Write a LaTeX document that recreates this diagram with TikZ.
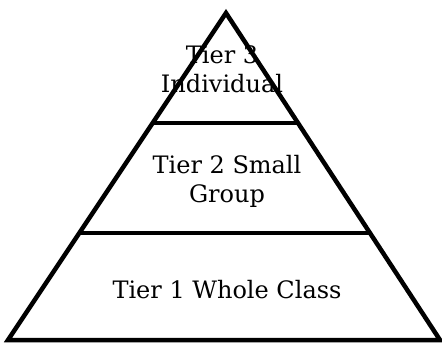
\documentclass[tikz,border=0pt]{standalone}
\usepackage{fontspec}
\setmainfont{DejaVu Serif}
\usetikzlibrary{calc}
\begin{document}
\begin{tikzpicture}[x=1pt, y=-1pt,
    tier/.style={align=center, font=\fontsize{24}{29}\selectfont, inner sep=0pt}]
    \useasboundingbox (0,0) rectangle (442,343);
    % Eckpunkte der Pyramide
    \coordinate (apex) at (226,13);
    \coordinate (bl) at (8,340);
    \coordinate (br) at (440,340);

    % Umriss
    \draw[line width=4.5pt, line join=miter] (apex) -- (bl) -- (br) -- cycle;

    % Trennlinien
    \draw[line width=4.5pt] ($(apex)!0.336!(bl)$) -- ($(apex)!0.336!(br)$);
    \draw[line width=4.5pt] ($(apex)!0.673!(bl)$) -- ($(apex)!0.673!(br)$);

    % Beschriftungen
    \node[tier, anchor=base] (t3) at (222,92) {Tier 3\\Individual};
    \node[tier, anchor=base] (t2) at (227,202) {Tier 2 Small\\Group};
    \node[tier, anchor=base] (t1) at (227,298) {Tier 1 Whole Class};
\end{tikzpicture}
\end{document}
